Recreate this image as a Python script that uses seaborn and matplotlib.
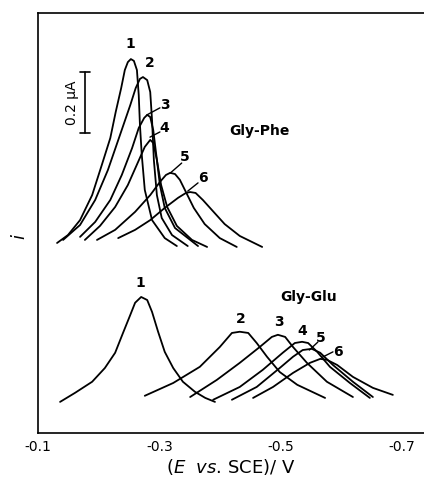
import pandas as pd
import matplotlib
matplotlib.use("Agg")
import matplotlib.pyplot as plt
import seaborn as sns

# potentials (V vs SCE) and currents (uA, above each group's baseline)
phe_E = [
    [-0.131, -0.149, -0.169, -0.189, -0.205, -0.219, -0.228, -0.237, -0.243, -0.248, -0.253, -0.258, -0.263, -0.266, -0.268, -0.271, -0.276, -0.288, -0.309, -0.329],
    [-0.141, -0.169, -0.194, -0.215, -0.235, -0.252, -0.261, -0.268, -0.273, -0.280, -0.285, -0.288, -0.291, -0.296, -0.304, -0.321, -0.347],
    [-0.169, -0.194, -0.219, -0.238, -0.255, -0.266, -0.275, -0.280, -0.285, -0.290, -0.295, -0.301, -0.309, -0.326, -0.364],
    [-0.177, -0.202, -0.227, -0.248, -0.265, -0.276, -0.285, -0.290, -0.296, -0.303, -0.313, -0.329, -0.354, -0.379],
    [-0.197, -0.227, -0.260, -0.285, -0.301, -0.311, -0.318, -0.326, -0.334, -0.344, -0.357, -0.375, -0.400, -0.428],
    [-0.232, -0.260, -0.285, -0.309, -0.331, -0.344, -0.351, -0.360, -0.372, -0.387, -0.408, -0.433, -0.470],
]
phe_i = [
    [0.000, 0.026, 0.075, 0.157, 0.256, 0.344, 0.430, 0.508, 0.567, 0.593, 0.603, 0.597, 0.567, 0.485, 0.387, 0.289, 0.174, 0.075, 0.016, -0.010],
    [0.010, 0.059, 0.141, 0.239, 0.354, 0.452, 0.508, 0.538, 0.544, 0.534, 0.495, 0.403, 0.272, 0.157, 0.082, 0.026, -0.010],
    [0.020, 0.069, 0.141, 0.223, 0.311, 0.377, 0.410, 0.420, 0.413, 0.370, 0.289, 0.190, 0.115, 0.049, -0.010],
    [0.010, 0.056, 0.118, 0.190, 0.266, 0.315, 0.338, 0.328, 0.272, 0.190, 0.118, 0.056, 0.010, -0.013],
    [0.010, 0.043, 0.102, 0.157, 0.200, 0.223, 0.230, 0.226, 0.207, 0.167, 0.115, 0.062, 0.016, -0.013],
    [0.016, 0.043, 0.075, 0.115, 0.148, 0.164, 0.167, 0.164, 0.141, 0.108, 0.062, 0.023, -0.013],
]
glu_E = [
    [-0.136, -0.161, -0.189, -0.210, -0.227, -0.240, -0.252, -0.260, -0.270, -0.280, -0.288, -0.298, -0.309, -0.323, -0.339, -0.359, -0.376, -0.392],
    [-0.276, -0.323, -0.367, -0.400, -0.420, -0.433, -0.447, -0.461, -0.478, -0.499, -0.528, -0.574],
    [-0.351, -0.395, -0.433, -0.466, -0.486, -0.496, -0.508, -0.521, -0.544, -0.577, -0.620],
    [-0.389, -0.433, -0.471, -0.504, -0.524, -0.536, -0.546, -0.561, -0.582, -0.615, -0.648],
    [-0.420, -0.461, -0.499, -0.521, -0.537, -0.552, -0.566, -0.587, -0.620, -0.653],
    [-0.455, -0.488, -0.521, -0.549, -0.566, -0.577, -0.594, -0.620, -0.653, -0.686],
]
glu_i = [
    [0.000, 0.030, 0.066, 0.111, 0.161, 0.226, 0.285, 0.325, 0.344, 0.334, 0.295, 0.230, 0.164, 0.111, 0.066, 0.033, 0.013, 0.000],
    [0.020, 0.062, 0.115, 0.180, 0.226, 0.230, 0.226, 0.193, 0.148, 0.098, 0.056, 0.013],
    [0.016, 0.072, 0.128, 0.180, 0.213, 0.220, 0.213, 0.180, 0.128, 0.066, 0.016],
    [0.007, 0.049, 0.105, 0.161, 0.193, 0.197, 0.193, 0.164, 0.115, 0.062, 0.013],
    [0.007, 0.049, 0.111, 0.148, 0.170, 0.174, 0.161, 0.121, 0.066, 0.016],
    [0.013, 0.049, 0.095, 0.128, 0.141, 0.138, 0.121, 0.082, 0.046, 0.023],
]
curve_labels = ["1", "2", "3", "4", "5", "6"]
tick_values = [-0.1, -0.2, -0.3, -0.4, -0.5, -0.6, -0.7]
tick_text = ["-0.1", "", "-0.3", "", "-0.5", "", "-0.7"]

PHE_BASE = 0.623
GLU_BASE = 0.102

rows = []
for name, Es, Is, base in [("phe", phe_E, phe_i, PHE_BASE), ("glu", glu_E, glu_i, GLU_BASE)]:
    for k, (e, c) in enumerate(zip(Es, Is)):
        for ev, cv in zip(e, c):
            rows.append({"curve": f"{name}{k+1}", "E": ev, "i": cv + base})
df = pd.DataFrame(rows)

sns.set_style("white")
plt.rcParams["font.family"] = ["DejaVu Sans"]
plt.rcParams["text.color"] = "black"
plt.rcParams["axes.labelcolor"] = "black"

fig = plt.figure(figsize=(4.24, 4.8), dpi=100)
ax = fig.add_axes([38.3 / 424, 47 / 480, (424 - 38.3) / 424, 420 / 480])

sns.lineplot(data=df, x="E", y="i", units="curve", estimator=None, sort=False,
             color="black", linewidth=1.3, ax=ax)

ax.set_xlim(-0.1, -0.7375)
ax.set_ylim(0, 1.377)
ax.set_xticks(tick_values)
ax.set_xticklabels(tick_text, fontsize=10)
ax.set_yticks([])
ax.tick_params(axis="x", direction="in", length=6, width=1.2, pad=5, colors="black")
for side in ["left", "bottom", "top"]:
    ax.spines[side].set_color("black")
    ax.spines[side].set_linewidth(1.2)
ax.spines["right"].set_visible(False)
ax.set_xlabel(r"($\it{E}$  $\it{vs}$. SCE)/ V", fontsize=13, labelpad=2)
ax.set_ylabel(r"$\it{i}$", fontsize=13)
ax.yaxis.label.set_verticalalignment("center")
ax.yaxis.set_label_coords(-0.047, 0.467)

kw = dict(fontsize=10, fontweight="bold", ha="center", va="center")
# Gly-Phe labels
for lab, (x, y) in zip(curve_labels, [(-0.252, 1.275), (-0.285, 1.212), (-0.3096, 1.075),
                                     (-0.308, 1.000), (-0.342, 0.905), (-0.372, 0.836)]):
    ax.text(x, y, lab, **kw)
for (x0, y0), (x1, y1) in [((-0.2796, 1.043), (-0.301, 1.066)), ((-0.2846, 0.970), (-0.301, 0.987)),
                           ((-0.318, 0.852), (-0.337, 0.885)), ((-0.347, 0.793), (-0.364, 0.820))]:
    ax.plot([x0, x1], [y0, y1], color="black", lw=1.0)
ax.text(-0.466, 0.990, "Gly-Phe", fontsize=10, fontweight="bold", ha="center", va="center")

# scale bar
ax.plot([-0.177, -0.177], [0.984, 1.184], color="black", lw=1.2)
ax.plot([-0.169, -0.186], [0.984, 0.984], color="black", lw=1.2)
ax.plot([-0.169, -0.186], [1.184, 1.184], color="black", lw=1.2)
ax.text(-0.156, 1.084, "0.2 μA", rotation=90, fontsize=10, ha="center", va="center")

# Gly-Glu labels
for lab, (x, y) in zip(curve_labels, [(-0.268, 0.492), (-0.435, 0.374), (-0.498, 0.364),
                                     (-0.536, 0.334), (-0.567, 0.311), (-0.595, 0.266)]):
    ax.text(x, y, lab, **kw)
for (x0, y0), (x1, y1) in [((-0.548, 0.272), (-0.562, 0.298)), ((-0.570, 0.249), (-0.587, 0.266))]:
    ax.plot([x0, x1], [y0, y1], color="black", lw=1.0)
ax.text(-0.547, 0.446, "Gly-Glu", fontsize=10, fontweight="bold", ha="center", va="center")

fig.savefig("out.png", dpi=100)
plt.close(fig)
